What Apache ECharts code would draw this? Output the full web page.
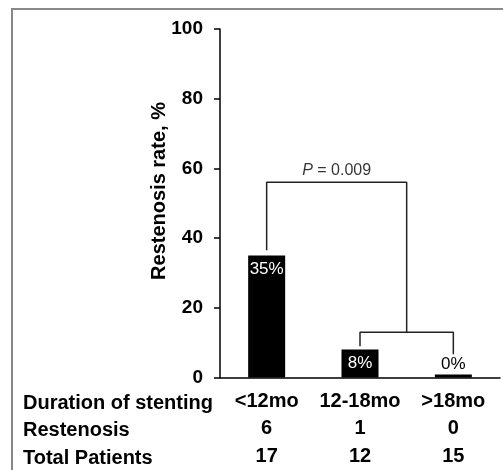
<!DOCTYPE html>
<html>
<head>
<meta charset="utf-8">
<script src="https://cdn.jsdelivr.net/npm/echarts@6/dist/echarts.min.js"></script>
<style>
    html, body { margin: 0; padding: 0; background: #fff; }
    #chart-box { width: 503px; height: 470px; }
</style>
</head>
<body>
<div id="chart-box"></div>
<script>
    // data
    var categories = ['<12mo', '12-18mo', '>18mo'];
    var restenosisRate = [35, 8, 0];
    var restenosisCount = [6, 1, 0];
    var totalPatients = [17, 12, 15];
    var rowHeaders = ['Duration of stenting', 'Restenosis', 'Total Patients'];

    // significance brackets, in [category position, value]
    var bracketTop = [[0, 36.5], [0, 56], [1.5, 56], [1.5, 13]];
    var bracketLow = [[1, 9], [1, 13], [2, 13], [2, 6.7]];
    var pLabelPos = [0.75, 56];
    var pValue = '0.009';

    var font = '"Liberation Sans", Arial, sans-serif';

    var myChart = echarts.init(document.getElementById('chart-box'));

    var barData = restenosisRate.map(function (v) {
        var item = { value: v };
        if (v >= 5) {
            item.label = { position: 'insideTop', color: '#fff', distance: 5 };
        } else {
            item.label = { position: 'top', color: '#000', distance: 2 };
        }
        return item;
    });

    var bracketStyle = { color: '#222', width: 1.5 };

    var option = {
        animation: false,
        backgroundColor: '#fff',
        grid: { left: 220, top: 29, right: 3, bottom: 91 },
        xAxis: [
            {
                type: 'category',
                data: categories,
                axisLine: { onZero: false, lineStyle: { color: '#000', width: 1.5 } },
                axisTick: { length: 5, lineStyle: { color: '#000', width: 1.5 } },
                axisLabel: {
                    interval: 0,
                    margin: 10,
                    formatter: function (val, idx) {
                        return val + '\n' + restenosisCount[idx] + '\n' + totalPatients[idx];
                    },
                    color: '#000',
                    fontFamily: font,
                    fontWeight: 'bold',
                    fontSize: 20,
                    lineHeight: 27.5
                }
            },
            {
                type: 'value',
                min: -0.5,
                max: 2.5,
                show: false
            }
        ],
        yAxis: {
            type: 'value',
            min: 0,
            max: 100,
            interval: 20,
            axisLine: { show: true, onZero: false, lineStyle: { color: '#000', width: 1.5 } },
            axisTick: { show: true, length: 6, lineStyle: { color: '#000', width: 1.5 } },
            splitLine: { show: false },
            axisLabel: {
                margin: 17,
                color: '#000',
                fontFamily: font,
                fontWeight: 'bold',
                fontSize: 19
            }
        },
        series: [
            {
                type: 'bar',
                data: barData,
                barWidth: 37,
                barMinHeight: 3,
                itemStyle: { color: '#000' },
                label: {
                    show: true,
                    formatter: '{c}%',
                    fontFamily: font,
                    fontSize: 17
                },
                z: 3
            },
            {
                type: 'line',
                xAxisIndex: 1,
                data: bracketTop,
                symbol: 'none',
                lineStyle: bracketStyle,
                z: 2
            },
            {
                type: 'line',
                xAxisIndex: 1,
                data: bracketLow,
                symbol: 'none',
                lineStyle: bracketStyle,
                z: 2
            },
            {
                type: 'scatter',
                xAxisIndex: 1,
                data: [pLabelPos],
                symbolSize: 0,
                label: {
                    show: true,
                    position: 'top',
                    distance: 4,
                    formatter: '{i|P} = ' + pValue,
                    color: '#000',
                    fontFamily: font,
                    fontSize: 16,
                    rich: {
                        i: { fontStyle: 'italic', fontFamily: font, fontSize: 16, color: '#000' }
                    }
                }
            }
        ],
        graphic: [
            {
                type: 'rect',
                shape: { x: 12, y: 9, width: 520, height: 480 },
                style: { fill: 'none', stroke: '#888', lineWidth: 2 }
            },
            {
                type: 'text',
                x: 159,
                y: 191,
                rotation: Math.PI / 2,
                style: {
                    text: 'Restenosis rate, %',
                    fill: '#000',
                    font: 'bold 20px ' + font,
                    align: 'center',
                    verticalAlign: 'middle'
                }
            }
        ].concat(rowHeaders.map(function (t, i) {
            return {
                type: 'text',
                x: 23,
                y: 403 + i * 27.5,
                style: {
                    text: t,
                    fill: '#000',
                    font: 'bold 20px ' + font,
                    align: 'left',
                    verticalAlign: 'middle'
                }
            };
        }))
    };

    myChart.setOption(option, true);
</script>
</body>
</html>
